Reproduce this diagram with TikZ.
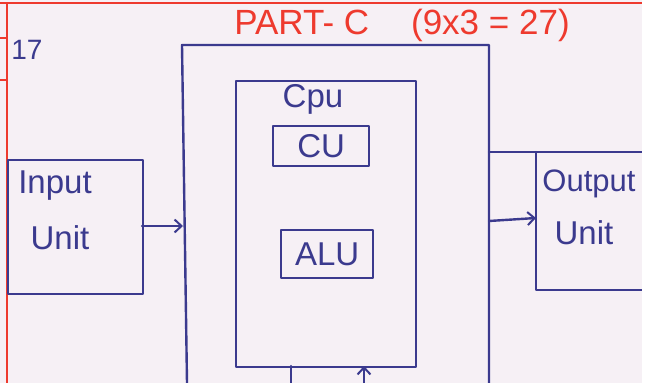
\documentclass[tikz,border=0pt]{standalone}
\usepackage{fontspec}
\setmainfont{Liberation Sans}
\usetikzlibrary{arrows.meta}
\definecolor{ink}{HTML}{3B3A8E}
\definecolor{redink}{HTML}{EE3A2E}
\definecolor{paper}{HTML}{F6F0F5}
\begin{document}
\begin{tikzpicture}[x=1pt,y=-1pt,
  inkline/.style={draw=ink,line width=2.4pt,line join=round,line cap=round},
  box/.style={inkline,rectangle,inner sep=0pt,anchor=north west},
  arr/.style={inkline,-{Straight Barb[length=7pt,width=13pt,line width=2pt]}},
  lbl/.style={text=ink,inner sep=0pt,font=\fontsize{33}{35}\selectfont},
  small/.style={text=ink,inner sep=0pt,font=\fontsize{33}{35}\selectfont}]
% paper
\useasboundingbox (0,0) rectangle (659,383);
\fill[white] (0,0) rectangle (659,383);
\fill[paper] (0,0) rectangle (642,383);
% red margins
\draw[redink,line width=1.8pt] (0,3) -- (642,3);
\draw[redink,line width=1.8pt] (7,3) -- (7,383);
\draw[redink,line width=1.5pt] (0,38) -- (7,38);
\draw[redink,line width=1.5pt] (0,80) -- (7,80);
% headings
\node[text=redink,inner sep=0pt,font=\fontsize{35}{37}\selectfont] (title) at (402,25) {PART- C\hspace{42pt}(9x3 = 27)};
\node[text=ink,inner sep=0pt,font=\fontsize{28}{30}\selectfont] (qno) at (27,50) {17};
% outer box (open at the bottom)
\coordinate (oBL) at (187,383);
\coordinate (oTL) at (182,45);
\coordinate (oTR) at (489,45);
\coordinate (oBR) at (489,383);
\draw[inkline] (oBL) -- (oTL) -- (oTR) -- (oBR);
% CPU box
\node[box,minimum width=180pt,minimum height=286pt] (cpu) at (235,80) {};
\node[small] (cpulbl) at (313,99) {Cpu};
\node[box,minimum width=96pt,minimum height=40pt] (cu) at (272,125) {};
\node[small] (culbl) at (cu.center) {CU};
\node[box,minimum width=92pt,minimum height=48pt] (alu) at (280,229) {};
\node[small] (alulbl) at (alu.center) {ALU};
% input unit
\node[box,minimum width=135pt,minimum height=134pt] (in) at (7,159) {};
\node[lbl] (in1) at (55,186) {Input};
\node[lbl] (in2) at (60,238) {Unit};
% output unit (right side beyond the paper edge)
\coordinate (oT) at (489,152);
\coordinate (outTL) at (536,152);
\coordinate (outTR) at (643,152);
\coordinate (outBL) at (536,290);
\coordinate (outBR) at (643,290);
\draw[inkline] (oT) -- (outTR);
\draw[inkline] (outTL) -- (outBL) -- (outBR);
\node[lbl,font=\fontsize{31}{33}\selectfont] (out1) at (589,184) {Output};
\node[lbl] (out2) at (584,233) {Unit};
% arrows
\coordinate (inR) at (142,226);
\coordinate (oL) at (183,226);
\draw[arr] (inR) -- (oL);
\coordinate (oR) at (489,221);
\coordinate (outL) at (536,218);
\draw[arr] (oR) -- (outL);
% bottom connectors
\coordinate (b1) at (291,366);
\coordinate (b1e) at (291,383);
\draw[inkline] (b1) -- (b1e);
\coordinate (b2) at (364,366);
\coordinate (b2e) at (364,383);
\draw[arr] (b2e) -- (b2);
\fill[white] (642,0) rectangle (659,383);
\end{tikzpicture}
\end{document}
